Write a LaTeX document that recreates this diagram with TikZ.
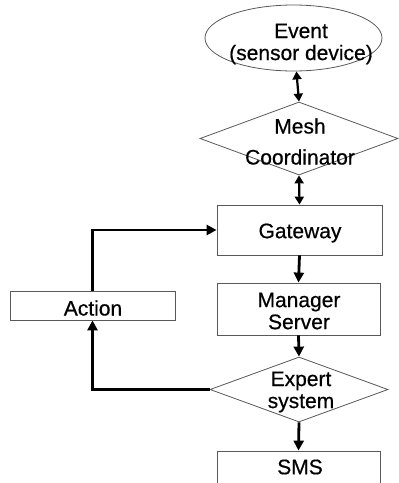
\documentclass[tikz,border=0pt]{standalone}
\usepackage{fontspec}
\setmainfont{Liberation Sans}
\newfontfamily\lblfont{Liberation Sans}[FakeBold=0.5]
\usetikzlibrary{shapes.geometric,arrows.meta}
\begin{document}
\begin{tikzpicture}[x=1pt,y=-1pt,
  shapeline/.style={draw=black!65,line width=0.8pt,inner sep=0pt},
  boxnode/.style={shapeline,rectangle,minimum width=165pt},
  diamondnode/.style={shapeline,diamond},
  ellipsenode/.style={shapeline,ellipse},
  label/.style={font=\lblfont\fontsize{21}{22}\selectfont,align=center,inner sep=0pt},
  flow/.style={line width=2.8pt,-{Triangle[length=10pt,width=10pt]}},
  biflow/.style={line width=2.2pt,{Triangle[length=8pt,width=9pt]}-{Triangle[length=8pt,width=9pt]}}]
\useasboundingbox (0,0) rectangle (399,483);
\clip (0,0) rectangle (399,483);
% shapes
\node[ellipsenode,minimum width=177pt,minimum height=66pt] (event) at (293.5,38) {};
\node[diamondnode,minimum width=198pt,minimum height=73pt] (mesh) at (299,138.5) {};
\node[boxnode,minimum height=50pt] (gateway) at (299.5,230) {};
\node[boxnode,minimum width=163pt,minimum height=52pt] (manager) at (298.5,309) {};
\node[diamondnode,minimum width=178pt,minimum height=65pt] (expert) at (299,389.5) {};
\node[boxnode,minimum width=163pt,minimum height=60pt] (sms) at (298.5,481) {};
\node[boxnode,minimum width=165pt,minimum height=29pt] (action) at (92.5,305.5) {};
% texts
\node[label] (teventt) at (301,44) {Event\\(sensor device)};
\node[label,font=\lblfont\fontsize{21}{31}\selectfont] (tmesh) at (300,141.5) {Mesh\\Coordinator};
\node[label] (tgateway) at (300,233) {Gateway};
\node[label] (tmanager) at (299,311) {Manager\\Server};
\node[label] (texpert) at (301,392) {Expert\\system};
\node[label] (tsms) at (300,467) {SMS};
\node[label] (taction) at (93,308) {Action};
% connectors
\draw[biflow] (event) -- (mesh.north);
\draw[biflow] (mesh.south) -- (gateway.north);
\draw[flow] (gateway.south) -- (manager.north);
\draw[flow] (manager.south) -- (expert.north);
\draw[flow] (expert.south) -- (sms.north);
\draw[flow] (expert.west) -| (action.south);
\draw[flow] (action.north) |- (gateway.west);
\end{tikzpicture}
\end{document}
